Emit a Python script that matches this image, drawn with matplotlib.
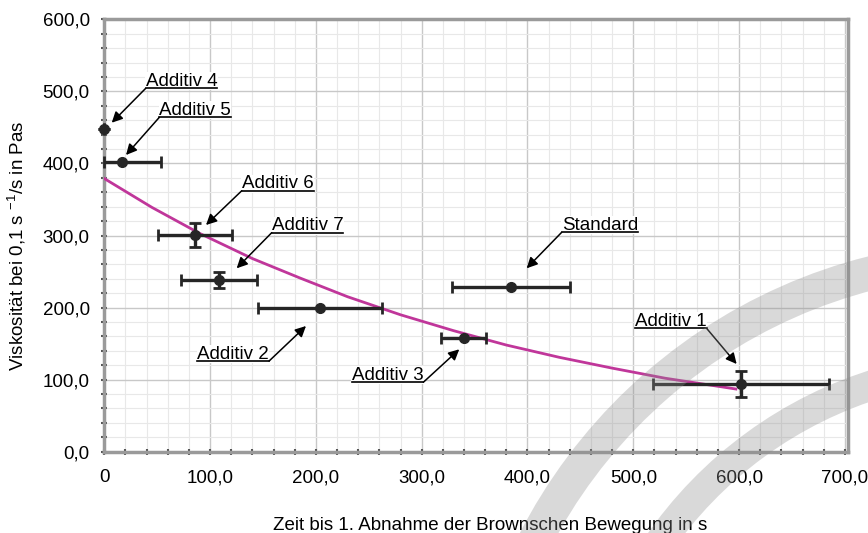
import numpy as np
import matplotlib
matplotlib.use("Agg")
import matplotlib.pyplot as plt
from matplotlib.patches import Wedge
from matplotlib.ticker import MultipleLocator, FuncFormatter

plt.rcParams['font.family'] = ['Liberation Sans', 'DejaVu Sans']
plt.rcParams['mathtext.fontset'] = 'custom'
plt.rcParams['mathtext.rm'] = 'Liberation Sans'
plt.rcParams['mathtext.default'] = 'regular'

# measured samples: time until first decrease of Brownian motion vs. viscosity
labels = ['Additiv 4', 'Additiv 5', 'Additiv 6', 'Additiv 7',
          'Additiv 2', 'Standard', 'Additiv 3', 'Additiv 1']
zeit = [0.0, 16.6, 85.7, 108.6, 204.0, 384.4, 339.6, 601.8]
visk = [448.0, 402.0, 300.6, 238.4, 199.4, 228.0, 157.3, 93.5]
zeit_err_lo = [0.0, 16.6, 35.4, 35.7, 58.6, 55.8, 21.3, 83.0]
zeit_err_hi = [0.0, 37.0, 35.4, 35.7, 58.6, 55.8, 21.3, 83.0]
visk_err = [0.0, 0.0, 16.6, 11.0, 0.0, 0.0, 0.0, 18.0]

# exponential trend line, sampled along its course
trend_x = [0, 45, 90, 140, 185, 230, 280, 330, 380, 430, 480, 530, 597]
trend_y = [379, 339, 303, 268, 241, 215, 190, 168, 148, 131, 116, 102, 87]

# callouts: label, text left x, underline y, arrow tail side, arrow head
callouts = [
    ('Additiv 4', 39.1, 504.2, 'left', (7.0, 456.5)),
    ('Additiv 5', 52.0, 464.0, 'left', (20.5, 411.7)),
    ('Additiv 6', 129.9, 362.1, 'left', (96.1, 314.6)),
    ('Additiv 7', 158.2, 303.9, 'left', (125.1, 254.5)),
    ('Additiv 2', 87.9, 125.8, 'right', (190.6, 174.4)),
    ('Additiv 3', 233.8, 96.3, 'right', (335.5, 142.1)),
    ('Standard', 432.3, 304.4, 'left', (399.2, 254.5)),
    ('Additiv 1', 501.6, 171.2, 'right', (597.7, 121.7)),
]

fig = plt.figure(figsize=(8.68, 5.33), dpi=100)
ax = fig.add_axes([0.1202, 0.1525, 0.8568, 0.8113])

ax.set_xlim(0, 703)
ax.set_ylim(0, 600)

ax.xaxis.set_major_locator(MultipleLocator(100))
ax.xaxis.set_minor_locator(MultipleLocator(20))
ax.yaxis.set_major_locator(MultipleLocator(100))
ax.yaxis.set_minor_locator(MultipleLocator(20))

ax.xaxis.set_major_formatter(
    FuncFormatter(lambda v, pos: '0' if v == 0 else f'{v:.1f}'.replace('.', ',')))
ax.yaxis.set_major_formatter(
    FuncFormatter(lambda v, pos: f'{v:.1f}'.replace('.', ',')))

ax.grid(which='major', color='#c8c8c8', lw=1.0)
ax.grid(which='minor', color='#e8e8e8', lw=0.8)
ax.set_axisbelow(True)

for s in ax.spines.values():
    s.set_color('#9a9a9a')
    s.set_linewidth(2.5)

ax.tick_params(which='both', direction='inout', color='#555555', labelsize=13.5)
ax.tick_params(which='major', length=5, width=1.5)
ax.tick_params(which='minor', length=4, width=1.5)
ax.tick_params(axis='x', pad=10)
ax.tick_params(axis='y', pad=8)

ax.plot(trend_x, trend_y, color='#c0369a', lw=2, zorder=3)

ax.errorbar(zeit, visk, xerr=[zeit_err_lo, zeit_err_hi], yerr=visk_err,
            fmt='o', color='#262626', ms=7, elinewidth=2.4, capsize=4,
            capthick=2, zorder=4, clip_on=False)

fig.canvas.draw()
renderer = fig.canvas.get_renderer()
inv = ax.transData.inverted()

for text, tx, ty, side, head in callouts:
    t = ax.text(tx, ty + 3.5, text, fontsize=13.5, ha='left', va='baseline',
                zorder=6, bbox=dict(facecolor='white', edgecolor='none', pad=0.3))
    bb = t.get_window_extent(renderer)
    x0 = inv.transform((bb.x0, 0))[0]
    x1 = inv.transform((bb.x1, 0))[0]
    ax.plot([x0, x1], [ty, ty], color='black', lw=1.2, zorder=7)
    tail = (x0, ty) if side == 'left' else (x1, ty)
    ax.annotate('', xy=head, xytext=tail,
                arrowprops=dict(arrowstyle='-|>', color='black', lw=1.1,
                                mutation_scale=16, shrinkA=0, shrinkB=0),
                zorder=7)

fig.text(0.565, 0.006, 'Zeit bis 1. Abnahme der Brownschen Bewegung in s',
         fontsize=13.5, ha='center', va='baseline')
fig.text(0.02, 0.538, r'Viskosität bei 0,1 s $^{-1}$/s in Pas',
         fontsize=13.5, rotation=90, ha='center', va='center')

# light logo ring in the lower right corner
over = fig.add_axes([0, 0, 1, 1], zorder=10)
over.set_xlim(0, 868)
over.set_ylim(0, 533)
over.axis('off')
over.patch.set_alpha(0)
for r, w in [(540, 34), (430, 30)]:
    over.add_patch(Wedge((1000, -247), r, 92, 170, width=w,
                         color='#8c8c8c', alpha=0.33, lw=0))

fig.savefig('out.png', dpi=100)
